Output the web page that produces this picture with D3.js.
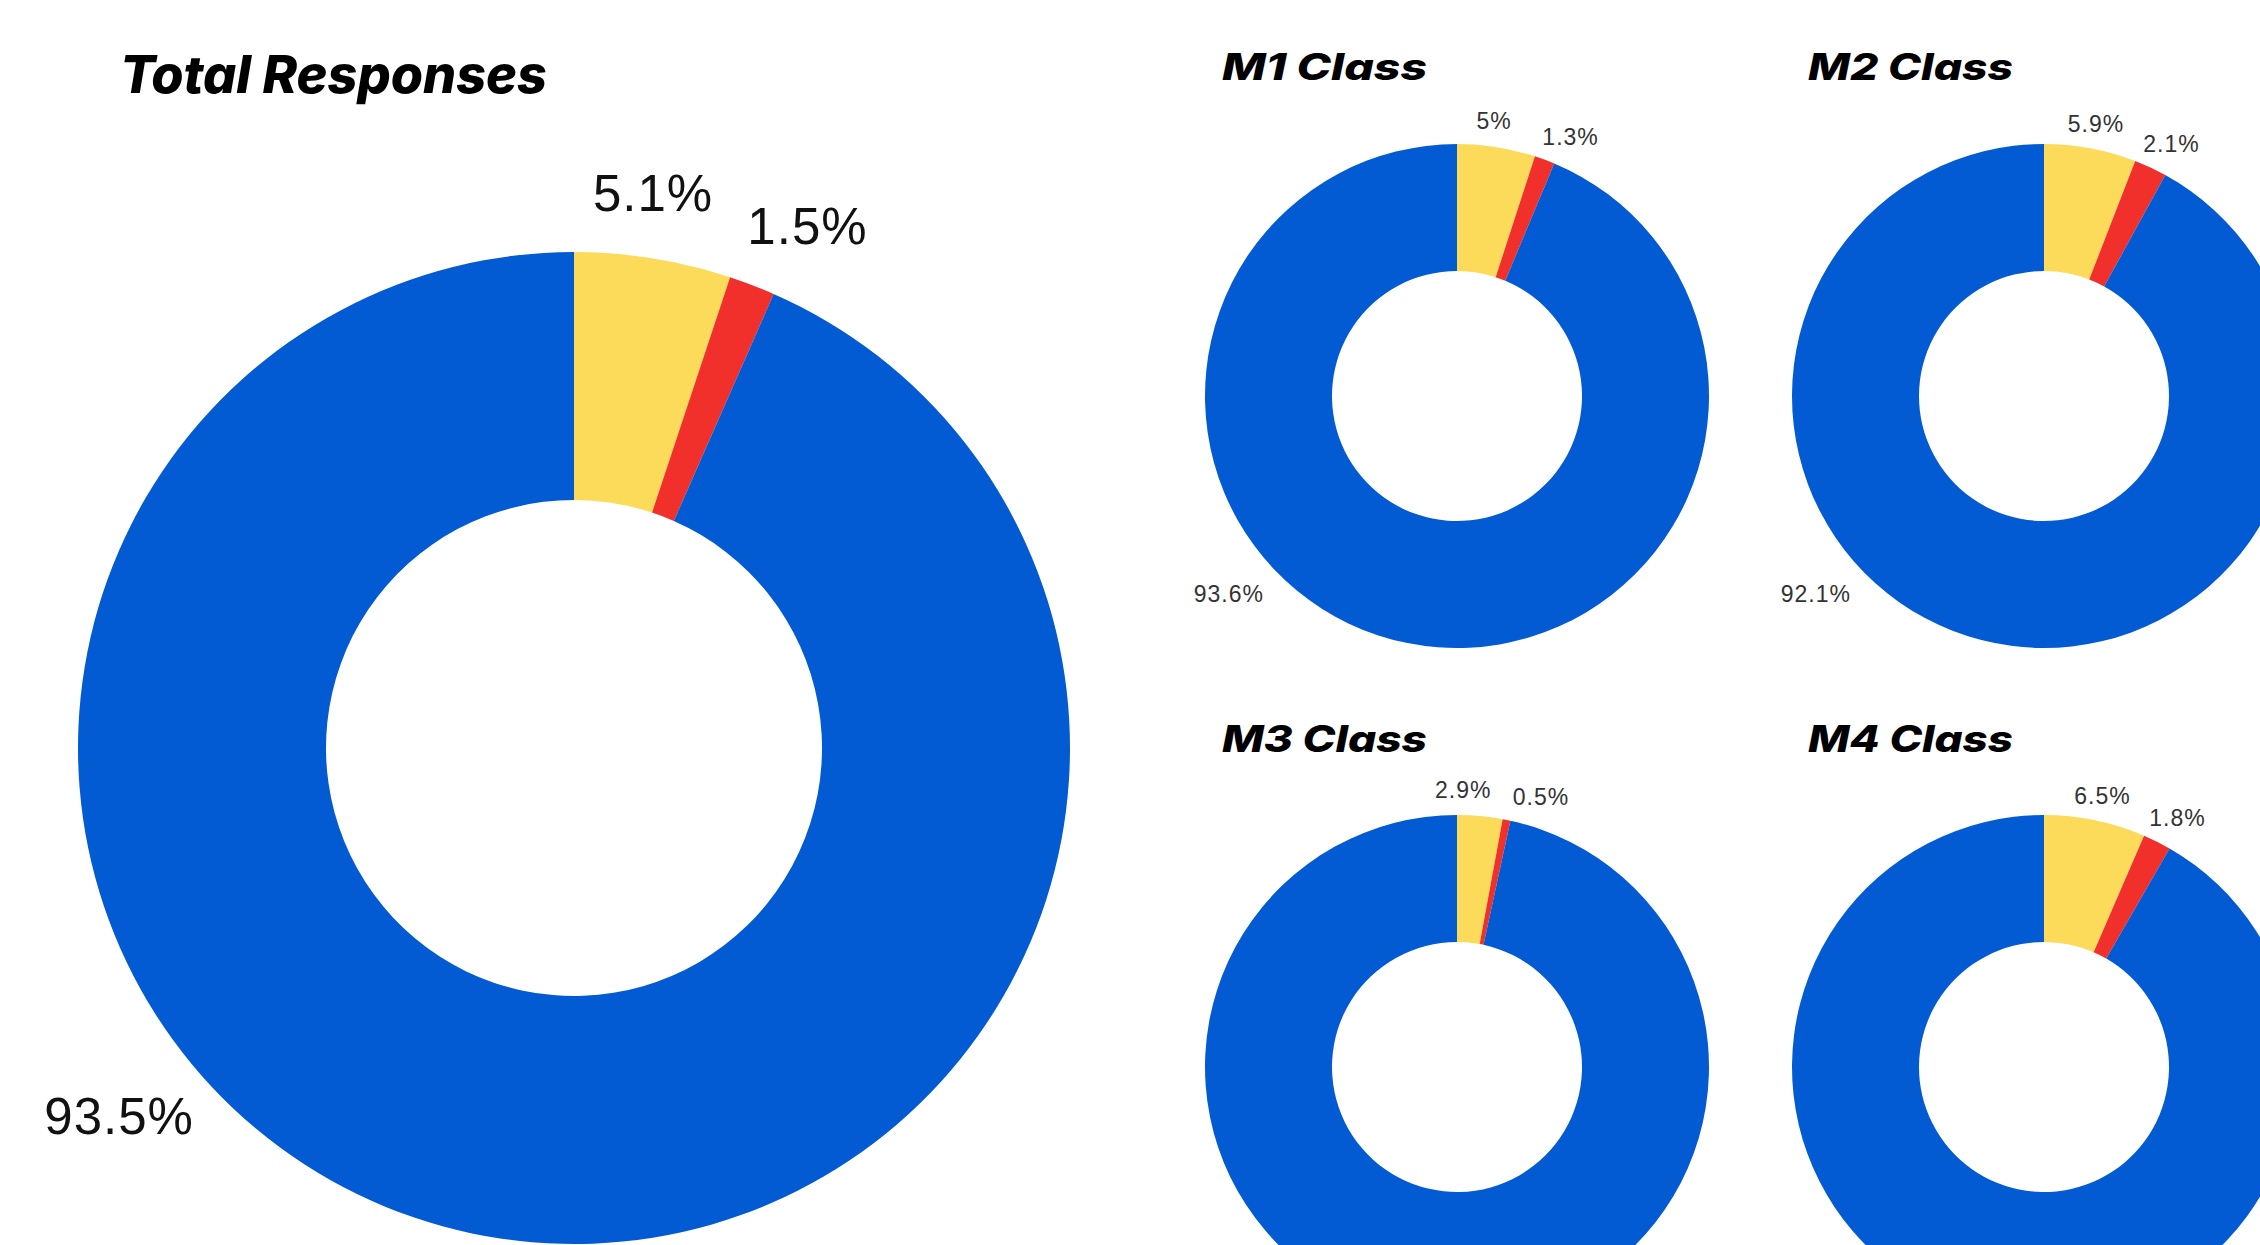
<!DOCTYPE html>
<html>
<head>
<meta charset="utf-8">
<script src="https://cdn.jsdelivr.net/npm/d3@7"></script>
<style>
  body { margin: 0; background: #fff; overflow: hidden; }
  .title { font-family: Inter, "Open Sans", sans-serif; font-weight: 800; font-style: italic; fill: #000; }
  .lbl { font-family: "Liberation Sans", Arial, sans-serif; letter-spacing: 1px; }
</style>
</head>
<body>
<svg id="chart" width="2260" height="1245"></svg>
<script>
// answer categories, drawn clockwise from 12 o'clock
const categories = ["Yes", "Unsure", "No"];
const colors = ["#fddb5a", "#f2302b", "#035bd3"];

const chartTitles = ["Total Responses", "M1 Class", "M2 Class", "M3 Class", "M4 Class"];
const totalValues = [5.1, 1.5, 93.5];
const m1Values = [5, 1.3, 93.6];
const m2Values = [5.9, 2.1, 92.1];
const m3Values = [2.9, 0.5, 96.6];
const m4Values = [6.5, 1.8, 91.7];
// label texts as printed (the M3/M4 big slice labels fall below the page)
const totalLabels = ["5.1%", "1.5%", "93.5%"];
const m1Labels = ["5%", "1.3%", "93.6%"];
const m2Labels = ["5.9%", "2.1%", "92.1%"];
const m3Labels = ["2.9%", "0.5%"];
const m4Labels = ["6.5%", "1.8%"];

const svg = d3.select("#chart");

const layout = [
  { cx: 574, cy: 748, r: 496, ri: 248, tx: 120, ty: 93, ts: 52, tw: 427, ls: 51, lc: "#111", lr: 1.13, ba: 231, br: 1.18 },
  { cx: 1457, cy: 396, r: 252, ri: 125, tx: 1222, ty: 80, ts: 37, tw: 205, ls: 23, lc: "#333", lr: 1.1, ba: 229, br: 1.2 },
  { cx: 2044, cy: 396, r: 252, ri: 125, tx: 1808, ty: 80, ts: 37, tw: 205, ls: 23, lc: "#333", lr: 1.1, ba: 229, br: 1.2 },
  { cx: 1457, cy: 1067, r: 252, ri: 125, tx: 1222, ty: 752, ts: 37, tw: 205, ls: 23, lc: "#333", lr: 1.1, ba: 229, br: 1.2 },
  { cx: 2044, cy: 1067, r: 252, ri: 125, tx: 1808, ty: 752, ts: 37, tw: 205, ls: 23, lc: "#333", lr: 1.1, ba: 229, br: 1.2 }
];
const allValues = [totalValues, m1Values, m2Values, m3Values, m4Values];
const allLabels = [totalLabels, m1Labels, m2Labels, m3Labels, m4Labels];

const pie = d3.pie().sort(null).value(d => d);
const color = d3.scaleOrdinal().domain(categories).range(colors);

function drawDonut(values, labels, title, L) {
  const g = svg.append("g").attr("transform", `translate(${L.cx},${L.cy})`);
  const arcs = pie(values);
  const arc = d3.arc().innerRadius(L.ri).outerRadius(L.r);

  g.selectAll("path")
    .data(arcs)
    .enter()
    .append("path")
    .attr("d", arc)
    .attr("fill", (d, i) => color(categories[i]));

  // label angles: small slices at their middle, pushed apart if too close
  let mids = arcs.map(d => (d.startAngle + d.endAngle) / 2 * 180 / Math.PI);
  let a0 = mids[0], a1 = mids[1];
  if (a1 - a0 < 16) {
    const m = (a0 + a1) / 2 + 1;
    a0 = m - 8; a1 = m + 8;
  }
  const angles = [a0, a1, L.ba];
  const radii = [L.r * L.lr, L.r * L.lr * 1.02, L.r * L.br];

  g.selectAll("text.lbl")
    .data(labels)
    .enter()
    .append("text")
    .attr("class", "lbl")
    .attr("x", (d, i) => Math.sin(angles[i] * Math.PI / 180) * radii[i])
    .attr("y", (d, i) => -Math.cos(angles[i] * Math.PI / 180) * radii[i])
    .attr("dy", "0.35em")
    .attr("text-anchor", "middle")
    .attr("font-size", L.ls)
    .attr("fill", L.lc)
    .text(d => d);

  svg.append("text")
    .attr("class", "title")
    .attr("x", L.tx)
    .attr("y", L.ty)
    .attr("font-size", L.ts)
    .attr("textLength", L.tw)
    .attr("lengthAdjust", "spacingAndGlyphs")
    .text(title);
}

allValues.forEach((v, i) => drawDonut(v, allLabels[i], chartTitles[i], layout[i]));
</script>
</body>
</html>
